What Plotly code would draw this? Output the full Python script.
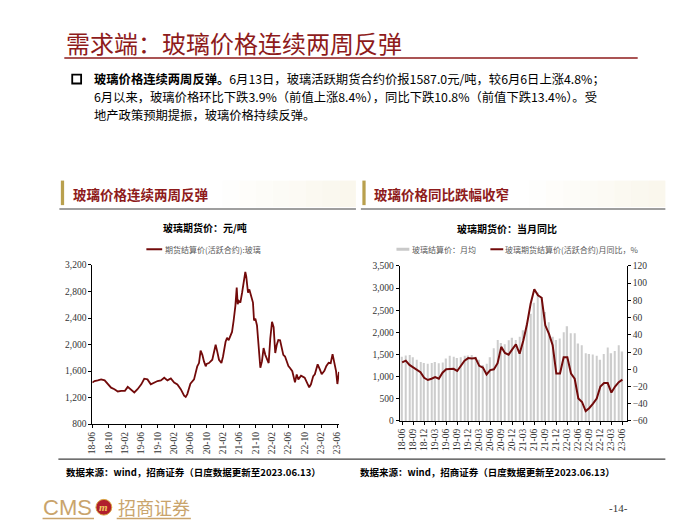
import plotly.graph_objects as go

W, H = 700, 525
def X(x): return x / W
def Y(y): return 1 - y / H

# ---------------- data ----------------
# Left chart: glass futures settlement price (active contract), yuan/ton
price_dates = [
    "2018-06-01","2018-06-18","2018-07-12","2018-08-06","2018-09-01","2018-09-25","2018-10-19",
    "2018-11-13","2018-12-08","2019-01-03","2019-01-30","2019-02-20","2019-03-16","2019-04-10",
    "2019-05-04","2019-06-01","2019-06-23","2019-07-17","2019-08-11","2019-09-06","2019-09-30",
    "2019-10-25","2019-11-19","2019-12-13","2020-01-07","2020-02-01","2020-02-25","2020-03-21",
    "2020-04-15","2020-04-27","2020-05-09","2020-06-01","2020-06-28","2020-07-22","2020-08-04",
    "2020-08-16","2020-08-29","2020-09-10","2020-09-23","2020-09-30","2020-10-17","2020-11-11",
    "2020-11-23","2020-12-06","2020-12-18","2020-12-31","2021-01-18","2021-01-30","2021-02-18",
    "2021-03-01","2021-03-13","2021-03-26","2021-04-07","2021-04-19","2021-05-02","2021-05-12",
    "2021-05-19","2021-05-27","2021-06-08","2021-06-21","2021-07-03","2021-07-15","2021-07-22",
    "2021-08-04","2021-08-14","2021-08-29","2021-09-10","2021-09-18","2021-09-28","2021-10-10",
    "2021-10-22","2021-11-04","2021-11-16","2021-11-28","2021-12-11","2021-12-23","2022-01-05",
    "2022-01-17","2022-01-30","2022-02-11","2022-02-23","2022-03-06","2022-03-18","2022-03-31",
    "2022-04-12","2022-04-24","2022-05-07","2022-06-01","2022-06-13","2022-06-30","2022-07-20",
    "2022-08-02","2022-08-14","2022-09-03","2022-09-30","2022-10-15","2022-11-03","2022-11-16",
    "2022-12-03","2022-12-15","2023-01-05","2023-01-22","2023-02-04","2023-02-24","2023-03-11",
    "2023-03-28","2023-04-12","2023-04-26","2023-05-10","2023-05-22","2023-06-01","2023-06-13",
]
price_vals = [
    1426,1450,1460,1475,1460,1400,1350,
    1327,1293,1303,1303,1362,1313,1278,
    1327,1400,1485,1475,1400,1426,1450,
    1460,1500,1460,1490,1426,1400,1327,
    1229,1210,1253,1411,1475,1672,1721,
    1910,1845,1746,1672,1707,1721,1771,
    1869,1997,1894,1771,1721,1820,2042,
    2101,2066,2131,2190,2362,2584,2860,
    2609,2658,2633,2781,2954,3096,3027,
    2781,2831,2732,2633,2362,2391,2288,
    1943,1650,1746,1947,1845,1771,1721,
    2091,2342,2263,1873,1993,2070,2066,
    1943,1845,1820,1677,1647,1598,1430,
    1549,1475,1530,1500,1426,1356,1401,
    1524,1553,1702,1623,1553,1603,1677,
    1725,1720,1855,1700,1600,1405,1587,
]

# Right chart: monthly (18-06 .. 23-06)
month_labels = [f"{y:02d}-{m:02d}" for y in range(18, 24) for m in range(1, 13)]
month_labels = month_labels[5:5 + 61]
bar_avg = [
    1450,1480,1490,1440,1380,1330,1310,1290,1310,1330,
    1300,1320,1410,1470,1450,1420,1440,1470,1480,1490,
    1450,1380,1260,1290,1440,1640,1830,1760,1730,1820,
    1880,1830,1900,2050,2200,2420,2670,2900,2800,2460,
    2230,1900,1830,1860,2000,2140,1980,1980,1750,1710,
    1530,1510,1500,1470,1380,1510,1660,1530,1580,1710,
    1570,
]
yoy = [
    8,10,5,2,-1.5,-3.5,-10,-12.5,-11,-9,
    -11,-4,0,0,0.5,-2,4,10,13,12.5,
    13,4,2,-6,-1,0,7,26,19,17,
    23,29,18,33,52,76,93,86,83,51,
    41,28,-5,-5,14,14,-5,-11,-34,-38,
    -48.5,-45,-40,-34,-20,-16,-16,-27,-20,-15,
    -12,
]

# ---------------- figure ----------------
DARKRED = "#8E1B1B"
LINE_RED = "#720A0A"
CJK = "Noto Sans CJK SC"
TICKFONT = dict(family="Liberation Serif", size=9.5, color="#333333")

fig = go.Figure()
fig.add_trace(go.Scatter(x=price_dates, y=price_vals, mode="lines",
                         line=dict(color=LINE_RED, width=1.8),
                         xaxis="x", yaxis="y", showlegend=False))
fig.add_trace(go.Bar(x=month_labels, y=bar_avg, marker_color="#CDCDCD",
                     marker_line_width=0, width=0.38,
                     xaxis="x2", yaxis="y2", showlegend=False))
fig.add_trace(go.Scatter(x=month_labels, y=yoy, mode="lines",
                         line=dict(color=LINE_RED, width=2),
                         xaxis="x2", yaxis="y3", showlegend=False))

axis_common = dict(showline=True, linecolor="black", linewidth=1, ticks="outside",
                   ticklen=3, tickcolor="black", showgrid=False, zeroline=False,
                   tickfont=TICKFONT)

fig.update_layout(
    width=W, height=H, margin=dict(l=0, r=0, t=0, b=0),
    paper_bgcolor="white", plot_bgcolor="white",
    xaxis=dict(domain=[X(88.3), X(338)], type="date",
               range=["2018-06-01", "2023-06-14"],
               tick0="2018-06-01", dtick="M4", tickformat="%y-%m",
               tickangle=-90, anchor="y", **axis_common),
    yaxis=dict(domain=[Y(427.3), Y(265)], range=[800, 3200], dtick=400,
               tickformat=",", anchor="x", **axis_common),
    xaxis2=dict(domain=[X(399.3), X(629)], type="category",
                range=[-0.65, 61.2], tickvals=month_labels[::3],
                tickangle=-90, anchor="y2", **axis_common),
    yaxis2=dict(domain=[Y(424), Y(266)], range=[0, 3500], dtick=500,
                tickformat=",", anchor="x2", **axis_common),
    yaxis3=dict(overlaying="y2", side="right", range=[-60, 120], dtick=20,
                anchor="x2", **axis_common),
    bargap=0.6,
)

shapes = []
annots = []

def text(x, y, s, size, color="#000000", family=CJK, xanchor="left", **kw):
    annots.append(dict(x=X(x), y=Y(y), xref="paper", yref="paper", text=s,
                       showarrow=False, xanchor=xanchor, yanchor="middle",
                       borderpad=0, font=dict(family=family, size=size, color=color), **kw))

def hline(x0, x1, y, color, width):
    shapes.append(dict(type="line", xref="paper", yref="paper", x0=X(x0), x1=X(x1),
                       y0=Y(y), y1=Y(y), line=dict(color=color, width=width)))

def rect(x0, y0, x1, y1, fill=None, line_color=None, lw=0):
    d = dict(type="rect", xref="paper", yref="paper", x0=X(x0), x1=X(x1),
             y0=Y(y1), y1=Y(y0), layer="below")
    d["fillcolor"] = fill if fill else "rgba(0,0,0,0)"
    d["line"] = dict(color=line_color if line_color else "rgba(0,0,0,0)", width=lw)
    shapes.append(d)

# page title
text(61, 38, "需求端：玻璃价格连续两周反弹", 24, DARKRED)
hline(60, 640, 54, DARKRED, 1.5)

# bullet
shapes.append(dict(type="rect", xref="paper", yref="paper", x0=X(68), x1=X(77),
                   y0=Y(80), y1=Y(71), line=dict(color="black", width=1.8)))
BODY = 12.3
text(89, 75, "<b>玻璃价格连续两周反弹。</b>6月13日，玻璃活跃期货合约价报1587.0元/吨，较6月6日上涨4.8%；", BODY)
text(89, 93.5, "6月以来，玻璃价格环比下跌3.9%（前值上涨8.4%），同比下跌10.8%（前值下跌13.4%）。受", BODY)
text(89, 112, "地产政策预期提振，玻璃价格持续反弹。", BODY)

# section header backgrounds (faint gradient)
for (a, b) in [(220, 355), (530, 668)]:
    n = 8
    step = (b - a) / n
    for i in range(n):
        alpha = 0.03 + 0.035 * i
        rect(a + i * step, 179, a + (i + 1) * step, 206,
             fill=f"rgba(236,226,190,{alpha:.2f})")

# section headers
GOLD = "#B9A04E"
rect(56.5, 179, 59.8, 204, fill=GOLD)
rect(361.5, 179, 364.8, 204, fill=GOLD)
text(68, 193, "<b>玻璃价格连续两周反弹</b>", 13.5, DARKRED)
text(372, 193, "<b>玻璃价格同比跌幅收窄</b>", 13.5, DARKRED)
hline(55, 355, 208, "#7F7F7F", 1.5)
hline(360, 668, 208, "#7F7F7F", 1.5)

# chart titles
text(202, 227, "<b>玻璃期货价：元/吨</b>", 10, "#000000", xanchor="center")
text(508, 228, "<b>玻璃期货价：当月同比</b>", 10, "#000000", xanchor="center")

# legends
hline(143, 159, 249, LINE_RED, 2)
text(161, 249, "期货结算价(活跃合约):玻璃", 8, "#595959")
hline(396, 409, 249, "#C9C9C9", 3)
text(411, 249, "玻璃结算价：月均", 8, "#595959")
hline(491, 504, 249, LINE_RED, 2)
text(505, 249, "玻璃期货结算价(活跃合约)月同比，%", 8, "#595959")

# bottom source line
hline(54, 668, 463, "#404040", 1.2)
src = "<b>数据来源：wind，招商证券（日度数据更新至2023.06.13）</b>"
text(61, 476, src, 9.5)
text(358, 476, src, 9.5)

# footer logo
TAN = "#C9A46C"
text(37, 512, "CMS", 22, TAN, family="Liberation Sans")
shapes.append(dict(type="circle", xref="paper", yref="paper", x0=X(92), x1=X(108),
                   y0=Y(520), y1=Y(504), fillcolor="#B01E2D",
                   line=dict(color="#D9A441", width=1)))
text(100, 512, "<b><i>m</i></b>", 11, "#F0C860", family="Liberation Serif", xanchor="center")
text(113, 512, "招商证券", 18, TAN)
hline(38, 90, 523.5, TAN, 1.5)
hline(113, 188, 523.5, TAN, 1.5)
text(621, 513, "-14-", 11, "#333333", family="Liberation Serif", xanchor="center")

fig.update_layout(shapes=shapes, annotations=annots)
fig.write_html("out.html")
